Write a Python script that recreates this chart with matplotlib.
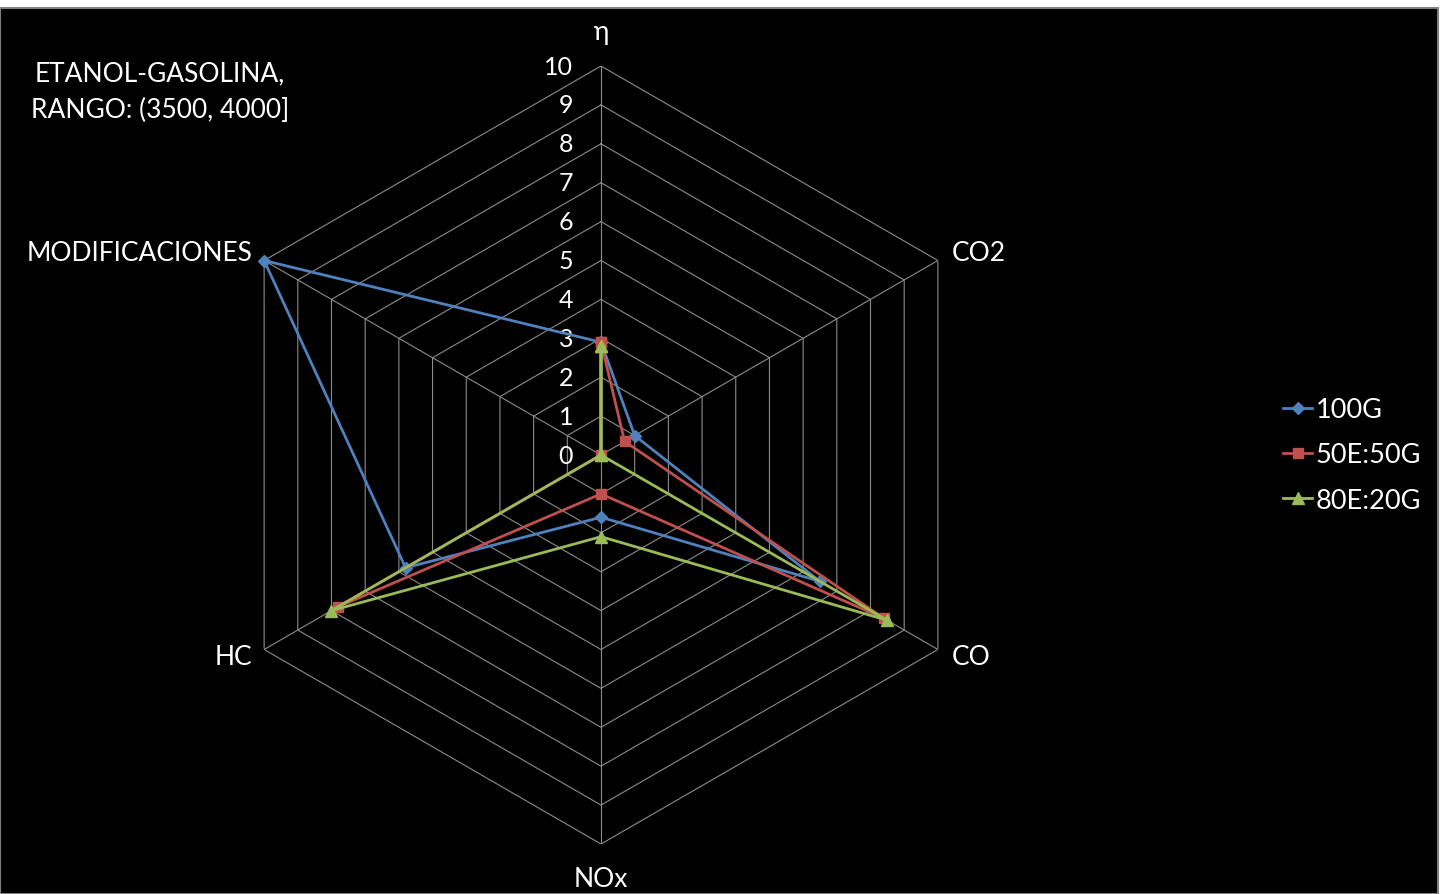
import numpy as np
import matplotlib
matplotlib.use("Agg")
import matplotlib.pyplot as plt
from matplotlib.patches import Rectangle
from matplotlib.transforms import offset_copy

plt.rcParams['font.family'] = ['Lato', 'DejaVu Sans']

# datos
categorias = ["η", "CO2", "CO", "NOx", "HC", "MODIFICACIONES"]
g100 = [2.9, 1.0, 6.5, 1.6, 5.8, 10.0]
e50g50 = [2.9, 0.7, 8.4, 1.0, 7.8, 0.0]
e80g20 = [2.8, 0.0, 8.5, 2.1, 8.0, 0.0]
series = [("100G", g100, "#4F81BD", "D", 6),
          ("50E:50G", e50g50, "#C0504D", "s", 7),
          ("80E:20G", e80g20, "#9BBB59", "^", 8)]
titulo = "ETANOL-GASOLINA,\nRANGO: (3500, 4000]"

fig = plt.figure(figsize=(14.51, 8.95), dpi=100, facecolor="white")
fondo = Rectangle((0, 0), 1438/1451, 886/895, transform=fig.transFigure,
                  facecolor="black", edgecolor="#7f7f7f", linewidth=1.5, zorder=-5)
fig.patches.append(fondo)

ax = fig.add_axes([212/1451, 50/895, 778/1451, 778/895], projection="polar")
ax.set_facecolor("none")
ax.set_theta_offset(np.pi/2)
ax.set_theta_direction(-1)
ax.set_ylim(0, 10)
ax.grid(False)
ax.spines["polar"].set_visible(False)
ax.set_xticks([])
ax.set_yticks([])

n = len(categorias)
ang = np.linspace(0, 2*np.pi, n, endpoint=False)
ang_c = np.append(ang, ang[0])

# rejilla hexagonal
for r in range(1, 11):
    ax.plot(ang_c, [r]*(n+1), color="#8c8c8c", lw=0.8, zorder=1)
for a in ang:
    ax.plot([a, a], [0, 10], color="#8c8c8c", lw=0.8, zorder=1)

# etiquetas radiales
tr = offset_copy(ax.transData, fig=fig, x=-28, y=0, units="dots")
for r in range(0, 11):
    ax.text(0, r, str(r), transform=tr, ha="right", va="center", color="white", fontsize=18)

# etiquetas de categorias
offs = [(0, 35, "center"), (14, 8, "left"), (14, -7, "left"),
        (0, -35, "center"), (-12, -7, "right"), (-12, 8, "right")]
for a, lab, (dx, dy, ha) in zip(ang, categorias, offs):
    t = offset_copy(ax.transData, fig=fig, x=dx, y=dy, units="dots")
    ax.text(a, 10, lab, transform=t, ha=ha, va="center", color="white", fontsize=19)

for nombre, vals, col, mk, ms in series:
    ax.plot(ang_c, vals + [vals[0]], color=col, lw=2, marker=mk, ms=ms,
            label=nombre, zorder=3, clip_on=False)

fig.text(160/1451, 1 - 92/895, titulo, ha="center", va="center", color="white",
         fontsize=19, linespacing=1.6)

leg = fig.legend(loc="center left", bbox_to_anchor=(1259/1451, 1 - 456/895), frameon=False,
                 fontsize=19.5, labelspacing=0.75, handlelength=1.05, handletextpad=0.15,
                 labelcolor="white")

fig.savefig("out.png", dpi=100, facecolor="white")
